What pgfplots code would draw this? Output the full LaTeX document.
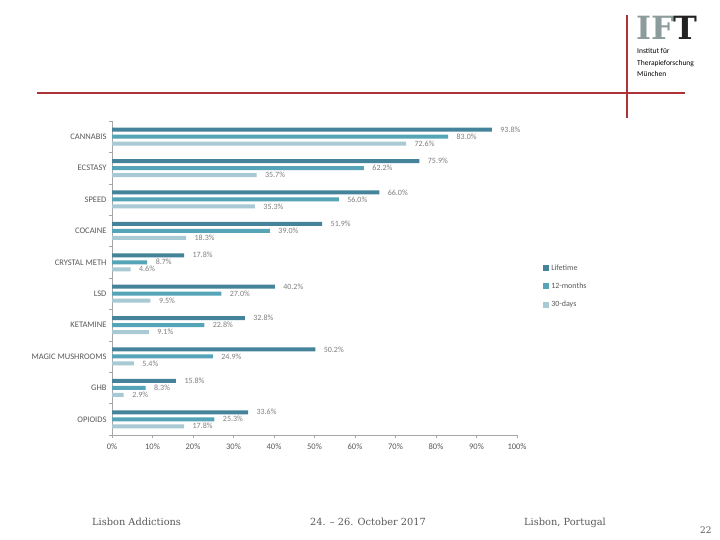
\documentclass[border=0pt]{standalone}
\usepackage{pgfplots}
\pgfplotsset{compat=1.18}
\usepackage{fontspec}
\setmainfont{Carlito}
\newfontfamily\slab{DejaVu Serif}
\definecolor{life}{HTML}{45839A}
\definecolor{twelve}{HTML}{56A4B7}
\definecolor{thirty}{HTML}{A9C9D5}
\definecolor{redline}{HTML}{AC3337}
\definecolor{txt}{HTML}{595959}
\definecolor{vtxt}{HTML}{7F7F7F}
\definecolor{axisgray}{HTML}{A6A6A6}
\definecolor{logogray}{HTML}{8C9C9C}
\definecolor{logoblack}{HTML}{222222}
\begin{document}
\begin{tikzpicture}
\useasboundingbox[fill=white] (0pt,0pt) rectangle (720pt,540pt);
\draw[redline, line width=1.6pt] (37pt,447pt) -- (685pt,447pt);
\draw[redline, line width=1.6pt] (627pt,525pt) -- (627pt,422pt);
\node[anchor=base west, inner sep=0, font=\slab\bfseries\fontsize{32}{32}\selectfont] at (636pt,500pt) {\textcolor{logogray}{IF}\textcolor{logoblack}{T}\vphantom{I}};
\node[anchor=north west, inner sep=0, align=left, font=\fontsize{7.5}{11.5}\selectfont] at (637pt,491.5pt) {Institut für\\Therapieforschung\\München};
\node[anchor=base west, inner sep=0, text=txt, font=\slab\fontsize{9.8}{11}\selectfont] at (92pt,14pt) {Lisbon Addictions};
\node[anchor=base west, inner sep=0, text=txt, font=\slab\fontsize{9.8}{11}\selectfont] at (310pt,14pt) {24. – 26. October 2017};
\node[anchor=base west, inner sep=0, text=txt, font=\slab\fontsize{9.8}{11}\selectfont] at (524pt,14pt) {Lisbon, Portugal};
\node[anchor=base west, inner sep=0, text=txt, font=\slab\fontsize{9}{11}\selectfont] at (700pt,6pt) {22};
\begin{axis}[
  at={(112pt,105pt)}, anchor=south west, scale only axis,
  width=405pt, height=314pt,
  xmin=0, xmax=100, ymin=-0.5, ymax=9.5,
  xbar, bar width=4pt, clip=false,
  axis lines*=left,
  axis line style={axisgray},
  tick style={axisgray},
  tick align=outside, major tick length=3pt,
  /pgf/number format/assume math mode=true,
  xtick={0,10,...,100},
  xticklabel={\pgfmathprintnumber[assume math mode=true]{\tick}\%},
  xticklabel style={yshift=-2pt},
  ytick={-0.5,0.5,...,9.5}, yticklabels={},
  extra y ticks={0,1,2,3,4,5,6,7,8,9},
  extra y tick labels={OPIOIDS,GHB,MAGIC MUSHROOMS,KETAMINE,LSD,CRYSTAL METH,COCAINE,SPEED,ECSTASY,CANNABIS},
  extra y tick style={tick style={draw=none}, yticklabel style={xshift=1pt}},
  ticklabel style={font=\fontsize{8.5}{9}\selectfont, text=txt},
  point meta=x,
  nodes near coords={\pgfmathprintnumber[fixed,fixed zerofill,precision=1,assume math mode=true]{\pgfplotspointmeta}\%},
  every node near coord/.append style={anchor=west, xshift=5pt, font=\fontsize{8}{9}\selectfont, text=vtxt},
  legend style={at={(1.057,0.555)}, anchor=north west, draw=none, fill=none, font=\fontsize{8}{9}\selectfont, text=txt, row sep=7pt},
  legend cell align=left,
  legend image code/.code={\fill[#1] (0pt,-3pt) rectangle (6pt,3pt);},
]
\addplot[fill=life, draw=none, bar shift=7pt] coordinates {
(93.8,9) (75.9,8) (66.0,7) (51.9,6) (17.8,5) (40.2,4) (32.8,3) (50.2,2) (15.8,1) (33.6,0)};
\addplot[fill=twelve, draw=none, bar shift=0pt] coordinates {
(83.0,9) (62.2,8) (56.0,7) (39.0,6) (8.7,5) (27.0,4) (22.8,3) (24.9,2) (8.3,1) (25.3,0)};
\addplot[fill=thirty, draw=none, bar shift=-7pt] coordinates {
(72.6,9) (35.7,8) (35.3,7) (18.3,6) (4.6,5) (9.5,4) (9.1,3) (5.4,2) (2.9,1) (17.8,0)};
\legend{Lifetime,12-months,30-days}
\end{axis}
\end{tikzpicture}
\end{document}
